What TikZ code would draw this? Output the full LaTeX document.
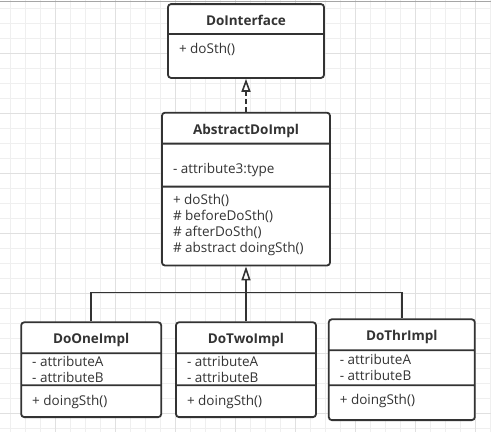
\documentclass[tikz,border=0pt]{standalone}
\usepackage{fontspec}
\setmainfont{Open Sans}
\usepackage{tikz}
\usetikzlibrary{shapes.multipart,positioning,arrows.meta}

\definecolor{linec}{HTML}{333333}
\definecolor{gridminor}{HTML}{EFEFEF}
\definecolor{gridmajor}{HTML}{E0E0E0}

% class title and member parts
\newcommand{\ctitle}[3]{\parbox[c][#2][t]{#1}{\centering\rule{0pt}{20.5pt}\textbf{#3}}}
\newcommand{\cpart}[4]{\parbox[c][#2][t]{#1}{\raggedright\leftskip=11pt\rule{0pt}{#3}#4}}

\tikzset{
  umlclass/.style={rectangle split, rectangle split parts=#1, draw=linec, line width=1.8pt,
    rounded corners=3pt, fill=white, inner sep=0pt, text=linec,
    font=\fontsize{13.5}{16}\selectfont},
  umlclass/.default=3,
  realize/.style={draw=linec, line width=1.6pt, dash pattern=on 5pt off 3pt,
    -{Triangle[open, length=13pt, width=9pt, fill=white]}},
  inherit/.style={draw=linec, line width=1.6pt,
    -{Triangle[open, length=14pt, width=9pt, fill=white]}},
  bus/.style={draw=linec, line width=1.6pt},
}

\begin{document}
\begin{tikzpicture}[x=1pt,y=-1pt]
  \useasboundingbox (0,0) rectangle (491,432);
  \fill[white] (0,0) rectangle (491,432);
  % background grid
  \foreach \x in {10,25,...,490} \draw[gridminor] (\x,0) -- (\x,432);
  \foreach \y in {8,23,...,428} \draw[gridminor] (0,\y) -- (491,\y);
  \foreach \x in {55,115,...,475} \draw[gridmajor] (\x,0) -- (\x,432);
  \foreach \y in {53,113,...,413} \draw[gridmajor] (0,\y) -- (491,\y);
  \draw[gray!70, line width=1pt] (0,1.5) -- (491,1.5);

  \node[umlclass=2] (iface) at (246,41)
    {\ctitle{156pt}{28.1pt}{DoInterface}\nodepart{two}\cpart{156pt}{42.1pt}{18.1pt}{+ doSth()}};
  \node[umlclass, below=33pt of iface] (abstract)
    {\ctitle{168pt}{29.1pt}{AbstractDoImpl}%
     \nodepart{two}\cpart{168pt}{41.2pt}{28.8pt}{- attribute3:type}%
     \nodepart{three}\cpart{168pt}{77.1pt}{16.8pt}{+ doSth()\\\# beforeDoSth()\\\# afterDoSth()\\\# abstract doingSth()}};
  \node[umlclass, below=55pt of abstract] (two)
    {\ctitle{140pt}{29.1pt}{DoTwoImpl}%
     \nodepart{two}\cpart{140pt}{30.2pt}{12.4pt}{- attributeA\\- attributeB}%
     \nodepart{three}\cpart{140pt}{30.1pt}{19.4pt}{+ doingSth()}};
  \node[umlclass, left=13pt of two] (one)
    {\ctitle{140pt}{29.1pt}{DoOneImpl}%
     \nodepart{two}\cpart{140pt}{30.2pt}{12.4pt}{- attributeA\\- attributeB}%
     \nodepart{three}\cpart{140pt}{30.1pt}{19.4pt}{+ doingSth()}};
  \node[umlclass, right=11pt of two] (thr)
    {\ctitle{146pt}{29.1pt}{DoThrImpl}%
     \nodepart{two}\cpart{146pt}{33.2pt}{13.1pt}{- attributeA\\- attributeB}%
     \nodepart{three}\cpart{146pt}{33.1pt}{18.8pt}{+ doingSth()}};

  \coordinate[above=29pt of two.north] (bus);
  \draw[realize] (abstract.north) -- (iface.south);
  \draw[bus] (one.north) |- (bus) -| (thr.north);
  \draw[inherit] (two.north) -- (abstract.south);
\end{tikzpicture}
\end{document}
